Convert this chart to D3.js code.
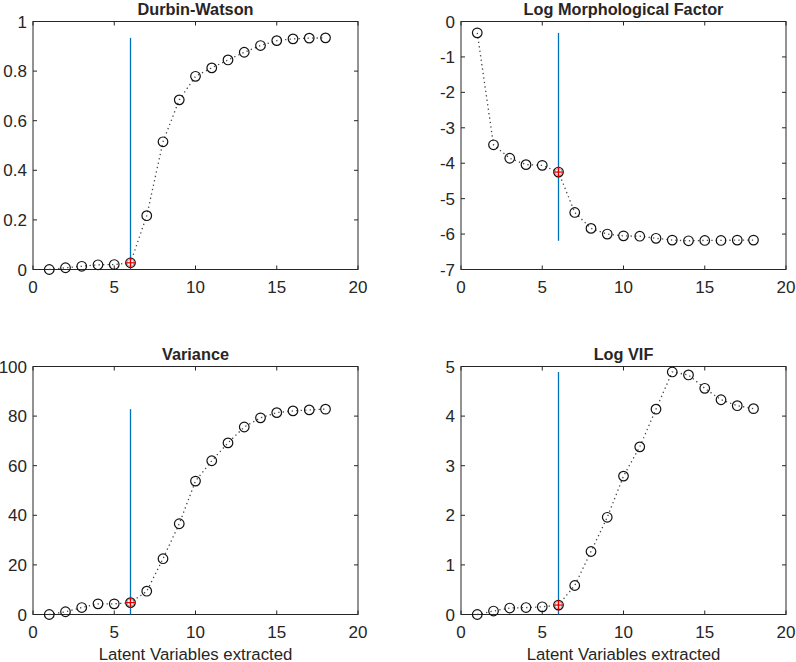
<!DOCTYPE html>
<html>
<head>
<meta charset="utf-8">
<script src="https://cdn.jsdelivr.net/npm/d3@7"></script>
<style>
  body { margin: 0; background: #fff; }
  text { font-family: "Liberation Sans", Arial, sans-serif; fill: #262626; }
</style>
</head>
<body>
<svg id="chart" width="796" height="662"></svg>
<script>
// ============================================================================
// data
// ============================================================================

const latentVars = [1, 2, 3, 4, 5, 6, 7, 8, 9, 10, 11, 12, 13, 14, 15, 16, 17, 18];
const selectedLV = 6;

const durbinWatson = [0.0, 0.007, 0.013, 0.019, 0.02, 0.027, 0.217, 0.515, 0.684, 0.779,
                      0.813, 0.845, 0.876, 0.903, 0.923, 0.930, 0.933, 0.934];
const logMorph = [-0.32, -3.48, -3.86, -4.04, -4.06, -4.25, -5.39, -5.84, -6.0, -6.05,
                  -6.06, -6.12, -6.17, -6.19, -6.18, -6.18, -6.17, -6.17];
const variance = [0.0, 1.1, 2.8, 4.3, 4.3, 4.8, 9.4, 22.5, 36.6, 53.8,
                  62.0, 69.2, 75.6, 79.3, 81.4, 82.1, 82.5, 82.8];
const logVIF = [0.0, 0.07, 0.13, 0.14, 0.155, 0.19, 0.585, 1.27, 1.96, 2.79,
                3.38, 4.14, 4.89, 4.83, 4.56, 4.33, 4.21, 4.15];

const xTicks = [0, 5, 10, 15, 20];
const dwTicks = [0, 0.2, 0.4, 0.6, 0.8, 1];
const morphTicks = [0, -1, -2, -3, -4, -5, -6, -7];
const varTicks = [0, 20, 40, 60, 80, 100];
const vifTicks = [0, 1, 2, 3, 4, 5];

const xLabel = "Latent Variables extracted";

// ============================================================================
// drawing
// ============================================================================

const svg = d3.select("#chart");
const axisColor = "#262626";
const lineBlue = "#0072BD";

function drawPanel(p) {
    const x = d3.scaleLinear().domain([0, 20]).range([p.left, p.right]);
    const y = d3.scaleLinear().domain(p.yDomain).range([p.bottom, p.top]);
    const g = svg.append("g");

    // box
    g.append("rect")
        .attr("x", p.left).attr("y", p.top)
        .attr("width", p.right - p.left).attr("height", p.bottom - p.top)
        .attr("fill", "none").attr("stroke", axisColor).attr("stroke-width", 1);

    // inward ticks on all sides
    const tl = 4;
    xTicks.forEach(t => {
        g.append("line").attr("x1", x(t)).attr("x2", x(t))
            .attr("y1", p.bottom).attr("y2", p.bottom - tl).attr("stroke", axisColor);
        g.append("line").attr("x1", x(t)).attr("x2", x(t))
            .attr("y1", p.top).attr("y2", p.top + tl).attr("stroke", axisColor);
        g.append("text").attr("x", x(t)).attr("y", p.bottom + 23)
            .attr("text-anchor", "middle").attr("font-size", 17).text(t);
    });
    p.yTicks.forEach(t => {
        g.append("line").attr("x1", p.left).attr("x2", p.left + tl)
            .attr("y1", y(t)).attr("y2", y(t)).attr("stroke", axisColor);
        g.append("line").attr("x1", p.right).attr("x2", p.right - tl)
            .attr("y1", y(t)).attr("y2", y(t)).attr("stroke", axisColor);
        g.append("text").attr("x", p.left - 6).attr("y", y(t))
            .attr("dy", "0.36em")
            .attr("text-anchor", "end").attr("font-size", 17).text(t);
    });

    // title
    g.append("text").attr("x", (p.left + p.right) / 2).attr("y", p.top - 7)
        .attr("text-anchor", "middle").attr("font-size", 16.3)
        .attr("font-weight", "bold").text(p.title);

    if (p.showXLabel) {
        g.append("text").attr("x", (p.left + p.right) / 2).attr("y", p.bottom + 45)
            .attr("text-anchor", "middle").attr("font-size", 16.8).text(xLabel);
    }

    // selected LV marker line, from min to max of the series
    const ext = d3.extent(p.values);
    g.append("line")
        .attr("x1", x(selectedLV)).attr("x2", x(selectedLV))
        .attr("y1", y(ext[0])).attr("y2", y(ext[1]))
        .attr("stroke", lineBlue).attr("stroke-width", 1.3);

    const pts = latentVars.map((lv, i) => [lv, p.values[i]]);

    // dotted line
    g.append("path")
        .datum(pts)
        .attr("d", d3.line().x(d => x(d[0])).y(d => y(d[1])))
        .attr("fill", "none").attr("stroke", "#444")
        .attr("stroke-width", 1.3).attr("stroke-dasharray", "1.3,3.2");

    // circle markers
    g.selectAll(".mk")
        .data(pts)
        .join("circle")
        .attr("cx", d => x(d[0])).attr("cy", d => y(d[1]))
        .attr("r", 4.8)
        .attr("fill", "none").attr("stroke", "#111").attr("stroke-width", 1.2);

    // red plus at selected LV
    const sel = pts.find(d => d[0] === selectedLV);
    const sx = x(sel[0]), sy = y(sel[1]);
    g.append("circle").attr("cx", sx).attr("cy", sy).attr("r", 3.6)
        .attr("fill", "none").attr("stroke", "#f06a6a").attr("stroke-width", 0.8);
    g.append("line").attr("x1", sx - 5.5).attr("x2", sx + 5.5).attr("y1", sy).attr("y2", sy)
        .attr("stroke", "#e00000").attr("stroke-width", 1.2);
    g.append("line").attr("x1", sx).attr("x2", sx).attr("y1", sy - 5.5).attr("y2", sy + 5.5)
        .attr("stroke", "#e00000").attr("stroke-width", 1.2);
}

drawPanel({ title: "Durbin-Watson", values: durbinWatson, yDomain: [0, 1], yTicks: dwTicks,
            left: 33, right: 358, top: 21.5, bottom: 269.5, showXLabel: false });
drawPanel({ title: "Log Morphological Factor", values: logMorph, yDomain: [-7, 0], yTicks: morphTicks,
            left: 461, right: 786, top: 21.5, bottom: 269.5, showXLabel: false });
drawPanel({ title: "Variance", values: variance, yDomain: [0, 100], yTicks: varTicks,
            left: 33, right: 358, top: 366.5, bottom: 614.5, showXLabel: true });
drawPanel({ title: "Log VIF", values: logVIF, yDomain: [0, 5], yTicks: vifTicks,
            left: 461, right: 786, top: 366.5, bottom: 614.5, showXLabel: true });
</script>
</body>
</html>
